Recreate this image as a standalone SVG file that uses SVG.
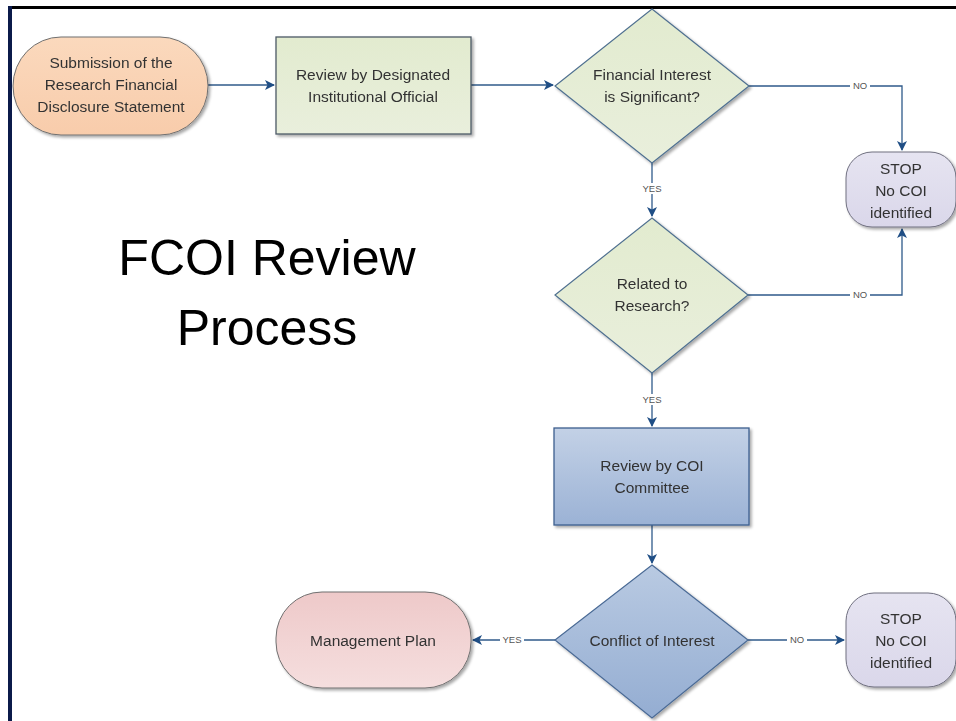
<svg xmlns="http://www.w3.org/2000/svg" width="956" height="721" viewBox="0 0 956 721">
<style>
.t{font-family:"Liberation Sans",Arial,sans-serif;font-size:15.5px;fill:#333;text-anchor:middle}
.lbl{font-family:"Liberation Sans",Arial,sans-serif;font-size:9.5px;fill:#555;text-anchor:middle}
.ln{fill:none;stroke:#2f5a8a;stroke-width:1.3}
.bg{fill:#fff}
.title{font-family:"Liberation Sans",Arial,sans-serif;font-size:50px;fill:#000;text-anchor:middle}
</style>
<defs>
<marker id="ah" markerWidth="10" markerHeight="10" refX="9" refY="5" orient="auto" markerUnits="userSpaceOnUse">
<path d="M0,0 L10,5 L0,10 L2.5,5 z" fill="#1f4e85"/>
</marker>
<filter id="sh" x="-10%" y="-10%" width="130%" height="130%">
<feGaussianBlur in="SourceAlpha" stdDeviation="1.5"/>
<feOffset dx="2" dy="2" result="b"/>
<feComponentTransfer><feFuncA type="linear" slope="0.35"/></feComponentTransfer>
<feMerge><feMergeNode/><feMergeNode in="SourceGraphic"/></feMerge>
</filter>
<linearGradient id="gPeach" x1="0" y1="0" x2="0" y2="1"><stop offset="0" stop-color="#fbd9bd"/><stop offset="1" stop-color="#f8ccab"/></linearGradient>
<linearGradient id="gGreen" x1="0" y1="0" x2="0" y2="1"><stop offset="0" stop-color="#e2ebcf"/><stop offset="1" stop-color="#e9efdc"/></linearGradient>
<linearGradient id="gBlue" x1="0" y1="0" x2="0" y2="1"><stop offset="0" stop-color="#c3d1e6"/><stop offset="1" stop-color="#9bb2d5"/></linearGradient>
<linearGradient id="gBlueD" x1="0" y1="0" x2="0" y2="1"><stop offset="0" stop-color="#b9cae2"/><stop offset="1" stop-color="#94add2"/></linearGradient>
<linearGradient id="gLav" x1="0" y1="0" x2="0" y2="1"><stop offset="0" stop-color="#e6e4f1"/><stop offset="1" stop-color="#dad7ea"/></linearGradient>
<linearGradient id="gPink" x1="0" y1="0" x2="0" y2="1"><stop offset="0" stop-color="#eec9c9"/><stop offset="1" stop-color="#f5dede"/></linearGradient>
</defs>
<rect x="0" y="0" width="956" height="721" fill="#fff"/>
<!-- frame -->
<rect x="8" y="6" width="948" height="3" fill="#000"/>
<rect x="8" y="6" width="4" height="715" fill="#0b1a4a"/>

<text class="title" x="267" y="275">FCOI Review</text>
<text class="title" x="267" y="345">Process</text>

<g id="connectors">
<path class="ln" d="M208,85 H274" marker-end="url(#ah)"/>
<path class="ln" d="M471,85 H553" marker-end="url(#ah)"/>
<path class="ln" d="M749,86 H902 V150" marker-end="url(#ah)"/>
<rect class="bg" x="850" y="80" width="20" height="11"/>
<text class="lbl" x="860" y="89">NO</text>
<path class="ln" d="M652,163 V216" marker-end="url(#ah)"/>
<rect class="bg" x="640" y="183" width="24" height="11"/>
<text class="lbl" x="652" y="192">YES</text>
<path class="ln" d="M748,295 H902 V229" marker-end="url(#ah)"/>
<rect class="bg" x="850" y="289" width="20" height="11"/>
<text class="lbl" x="860" y="298">NO</text>
<path class="ln" d="M652,373 V426" marker-end="url(#ah)"/>
<rect class="bg" x="640" y="394" width="24" height="11"/>
<text class="lbl" x="652" y="403">YES</text>
<path class="ln" d="M652,525 V563" marker-end="url(#ah)"/>
<path class="ln" d="M555,640 H473" marker-end="url(#ah)"/>
<rect class="bg" x="500" y="634" width="24" height="11"/>
<text class="lbl" x="512" y="643">YES</text>
<path class="ln" d="M748,640 H844" marker-end="url(#ah)"/>
<rect class="bg" x="787" y="634" width="20" height="11"/>
<text class="lbl" x="797" y="643">NO</text>
</g>

<g id="submission" filter="url(#sh)">
<rect x="13" y="37" width="195" height="98" rx="48" ry="49" fill="url(#gPeach)" stroke="#707070" stroke-width="1"/>
<text class="t" x="111" y="68">Submission of the</text>
<text class="t" x="111" y="90">Research Financial</text>
<text class="t" x="111" y="112">Disclosure Statement</text>
</g>

<g id="review-official" filter="url(#sh)">
<rect x="276" y="37" width="195" height="97" fill="url(#gGreen)" stroke="#4d5a66" stroke-width="1.3"/>
<text class="t" x="373" y="80">Review by Designated</text>
<text class="t" x="373" y="102">Institutional Official</text>
</g>

<g id="decision-significant" filter="url(#sh)">
<polygon points="652,9 749,86 652,163 555,86" fill="url(#gGreen)" stroke="#4f7090" stroke-width="1.2"/>
<text class="t" x="652" y="80">Financial Interest</text>
<text class="t" x="652" y="102">is Significant?</text>
</g>

<g id="stop1" filter="url(#sh)">
<rect x="846" y="152" width="110" height="75" rx="26" ry="26" fill="url(#gLav)" stroke="#707080" stroke-width="1"/>
<text class="t" x="901" y="174">STOP</text>
<text class="t" x="901" y="196">No COI</text>
<text class="t" x="901" y="218">identified</text>
</g>

<g id="decision-related" filter="url(#sh)">
<polygon points="652,218 748,295 652,373 555,295" fill="url(#gGreen)" stroke="#4f7090" stroke-width="1.2"/>
<text class="t" x="652" y="289">Related to</text>
<text class="t" x="652" y="311">Research?</text>
</g>

<g id="review-committee" filter="url(#sh)">
<rect x="554" y="428" width="195" height="97" fill="url(#gBlue)" stroke="#3d5f8f" stroke-width="1.3"/>
<text class="t" x="652" y="471">Review by COI</text>
<text class="t" x="652" y="493">Committee</text>
</g>

<g id="decision-conflict" filter="url(#sh)">
<polygon points="652,565 748,640 652,718 555,640" fill="url(#gBlueD)" stroke="#4a6a95" stroke-width="1.2"/>
<text class="t" x="652" y="646">Conflict of Interest</text>
</g>

<g id="management-plan" filter="url(#sh)">
<rect x="276" y="592" width="195" height="96" rx="46" ry="46" fill="url(#gPink)" stroke="#707070" stroke-width="1"/>
<text class="t" x="373" y="646">Management Plan</text>
</g>

<g id="stop2" filter="url(#sh)">
<rect x="846" y="593" width="110" height="94" rx="28" ry="28" fill="url(#gLav)" stroke="#707080" stroke-width="1"/>
<text class="t" x="901" y="624">STOP</text>
<text class="t" x="901" y="646">No COI</text>
<text class="t" x="901" y="668">identified</text>
</g>
</svg>
